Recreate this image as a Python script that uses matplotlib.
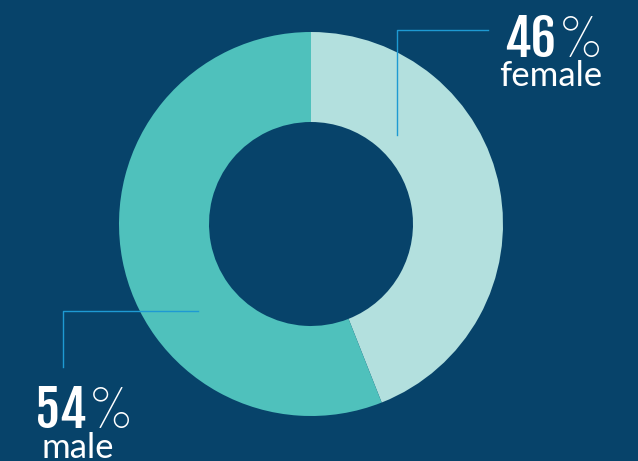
import matplotlib
matplotlib.use("Agg")
import matplotlib.pyplot as plt
from matplotlib import font_manager as fm

# data
labels = ["female", "male"]
pct_text = [46, 54]      # numbers printed on the chart
arc_share = [44, 56]     # share of the ring as it is drawn in the picture
colors = ["#B3E0DE", "#4FC1BC"]

bg = "#07436A"
line_col = "#1E9AD3"

have = {f.name for f in fm.fontManager.ttflist}
def pick(cands):
    for c in cands:
        if c in have:
            return c
    return "DejaVu Sans"

num_font = pick(["Fjalla One", "Oswald", "Barlow Condensed"])
pct_font = pick(["Barlow Condensed", "Roboto Condensed", "Oswald"])
lab_font = pick(["Lato", "Open Sans"])

W, H = 638, 461
fig = plt.figure(figsize=(W / 100, H / 100), dpi=100, facecolor=bg)
ax = fig.add_axes([0, 0, 1, 1])
ax.set_facecolor(bg)

cx, cy, r = 311, H - 224, 192
ax.pie(arc_share, colors=colors, startangle=90, counterclock=False,
       center=(cx, cy), radius=r, wedgeprops=dict(width=r - 102, linewidth=0),
       frame=True)
ax.set_xlim(0, W)
ax.set_ylim(0, H)
ax.set_aspect("equal")
ax.axis("off")

# leader lines
ax.plot([397, 397, 488], [H - 135, H - 30, H - 30], color=line_col, lw=1.0)
ax.plot([198, 63, 63], [H - 311, H - 311, H - 367], color=line_col, lw=1.0)

# female label
ax.text(556, H - 57, str(pct_text[0]), ha="right", va="baseline", color="white",
        fontsize=36, family=num_font)
ax.text(558, H - 57, "%", ha="left", va="baseline", color="white",
        fontsize=42, fontweight=250, family=pct_font)
ax.text(551, H - 86, labels[0], ha="center", va="baseline", color="white",
        fontsize=25, family=lab_font)

# male label
ax.text(87, H - 428, str(pct_text[1]), ha="right", va="baseline", color="white",
        fontsize=36, family=num_font)
ax.text(88, H - 428, "%", ha="left", va="baseline", color="white",
        fontsize=42, fontweight=250, family=pct_font)
ax.text(41, H - 458, labels[1], ha="left", va="baseline", color="white",
        fontsize=25, family=lab_font)

fig.savefig("out.png", dpi=100, facecolor=bg)
